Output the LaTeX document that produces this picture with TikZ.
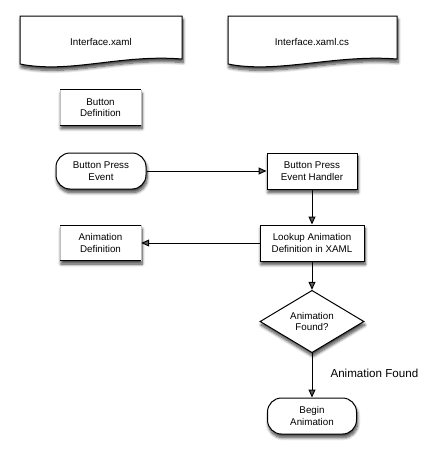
\documentclass[tikz,border=0pt]{standalone}
\usepackage{fontspec}
\setmainfont{Liberation Sans}
\usetikzlibrary{arrows.meta,shapes.geometric,shadows.blur}
\newcommand\flowfont{\fontsize{9.8}{11.6}\selectfont}
\tikzset{
  boxshadow/.style={blur shadow={shadow xshift=1pt, shadow yshift=-3.5pt, shadow blur radius=3pt, shadow blur steps=8, shadow opacity=75}},
  process/.style={draw, fill=white, line width=1pt, minimum width=90pt, minimum height=36pt, inner sep=1pt, align=center, font=\flowfont, boxshadow},
  terminal/.style={process, rounded corners=14pt},
  datastore/.style={fill=white, minimum width=81pt, minimum height=35pt, inner sep=1pt, align=center, font=\flowfont, boxshadow},
  decision/.style={diamond, draw, fill=white, line width=1pt, minimum width=104pt, minimum height=49pt, inner sep=0pt, align=center, font=\flowfont, boxshadow},
  document/.style={draw, fill=white, line width=1pt, boxshadow},
  flow/.style={line width=1pt, -{Triangle[length=8pt, width=7pt]}}
}
\begin{document}
\begin{tikzpicture}[x=1pt, y=-1pt]
\useasboundingbox (0,0) rectangle (428,458);
% documents
\draw[document] (20,16) -- (182,16) -- (182,59) .. controls (120,54) and (70,74) .. (20,64) -- cycle;
\draw[document] (228,16) -- (397,16) -- (397,59) .. controls (335,54) and (278,74) .. (228,64) -- cycle;
\node[font=\flowfont] (xaml) at (101,42) {Interface.xaml};
\node[font=\flowfont] (xamlcs) at (312,42) {Interface.xaml.cs};
% stored definitions
\node[datastore] (buttondef) at (100.5,107.5) {Button\\Definition};
\node[datastore] (animdef) at (100.5,243) {Animation\\Definition};
\foreach \n in {buttondef, animdef} {
  \draw[gray!50, line width=0.4pt] (\n.north west) -- (\n.south west);
  \draw[gray!50, line width=0.4pt] (\n.north east) -- (\n.south east);
  \draw[line width=1.3pt] (\n.north west) -- (\n.north east);
  \draw[line width=1.3pt] (\n.south west) -- (\n.south east);
}
% flow
\node[terminal] (press) at (101,171) {Button Press\\Event};
\node[process] (handler) at (312,171) {Button Press\\Event Handler};
\node[process, minimum width=104pt] (lookup) at (312,243) {Lookup Animation\\Definition in XAML};
\node[decision] (found) at (312,321.5) {Animation\\Found?};
\node[terminal, minimum width=89pt] (begin) at (312,416) {Begin\\Animation};
\draw[flow] (press) -- (handler);
\draw[flow] (handler) -- (lookup);
\draw[flow] (lookup) -- (animdef);
\draw[flow] (lookup) -- (found);
\draw[flow] (found) -- (begin);
\node[anchor=west, font=\fontsize{11.6}{13}\selectfont] (foundlabel) at (327,373) {Animation Found};
\end{tikzpicture}
\end{document}
